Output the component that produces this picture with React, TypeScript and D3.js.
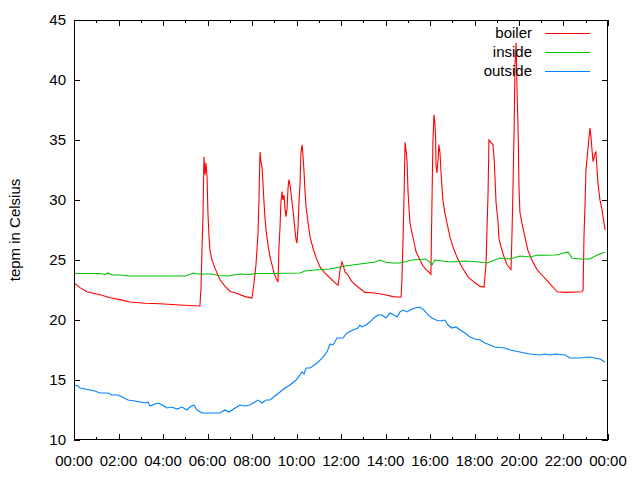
import React from "react";
import * as d3 from "d3";

// [hour of day, temperature °C]
const boiler: [number, number][] = [
  [0, 23.1], [0.27, 22.7], [0.58, 22.35], [1.17, 22.1], [1.62, 21.85], [2.07, 21.7], [2.52, 21.5], [3.19, 21.4],
  [3.87, 21.35], [4.76, 21.25], [5.66, 21.17], [5.71, 22.75], [5.75, 25.7], [5.8, 28.9], [5.84, 33.6], [5.89, 32.1],
  [5.93, 33.1], [5.98, 31.9], [6.02, 28.9], [6.07, 26.9], [6.11, 25.8], [6.2, 25.0], [6.34, 24.3], [6.56, 23.35],
  [6.79, 22.8], [7.01, 22.4], [7.33, 22.2], [7.69, 21.95], [8.0, 21.83], [8.09, 23.1], [8.18, 24.6], [8.27, 27.25],
  [8.31, 29.8], [8.36, 34.0], [8.4, 33.2], [8.45, 32.7], [8.49, 31.5], [8.54, 29.8], [8.58, 28.6], [8.63, 27.5],
  [8.72, 26.25], [8.81, 25.25], [8.9, 24.6], [8.99, 23.9], [9.08, 23.5], [9.17, 23.17], [9.21, 26.0], [9.26, 27.75],
  [9.3, 29.8], [9.35, 30.7], [9.39, 30.0], [9.44, 30.4], [9.48, 29.3], [9.53, 28.6], [9.57, 29.2], [9.62, 31.0],
  [9.66, 31.7], [9.71, 31.25], [9.75, 30.6], [9.8, 29.8], [9.84, 29.2], [9.89, 28.3], [9.93, 27.5], [9.98, 26.7],
  [10.02, 26.4], [10.07, 27.75], [10.11, 29.75], [10.16, 31.4], [10.2, 33.9], [10.25, 34.6], [10.29, 33.75],
  [10.34, 32.3], [10.38, 30.8], [10.43, 29.4], [10.52, 28.1], [10.61, 26.9], [10.74, 26.0], [10.88, 25.2],
  [11.06, 24.4], [11.28, 23.9], [11.51, 23.5], [11.73, 23.1], [11.87, 22.9], [11.96, 24.2], [12.04, 24.85],
  [12.09, 24.6], [12.18, 24.0], [12.31, 23.75], [12.49, 23.2], [12.76, 22.75], [13.08, 22.3], [13.53, 22.25],
  [13.98, 22.1], [14.34, 21.95], [14.7, 21.9], [14.74, 23.5], [14.79, 26.8], [14.83, 30.0], [14.88, 34.8],
  [14.92, 34.2], [14.97, 33.2], [15.01, 30.8], [15.06, 29.2], [15.1, 28.1], [15.19, 27.25], [15.28, 26.5],
  [15.37, 25.7], [15.55, 25.0], [15.69, 24.5], [15.82, 24.2], [16.0, 23.9], [16.04, 23.8], [16.09, 30.0],
  [16.13, 34.8], [16.18, 37.1], [16.22, 36.4], [16.25, 35.2], [16.27, 32.9], [16.31, 32.25], [16.36, 33.3],
  [16.4, 34.6], [16.45, 33.9], [16.49, 32.5], [16.54, 31.0], [16.58, 30.0], [16.67, 28.9], [16.76, 28.1],
  [16.9, 26.9], [17.03, 26.1], [17.21, 25.25], [17.44, 24.4], [17.71, 23.6], [18.02, 23.1], [18.25, 22.8],
  [18.43, 22.75], [18.52, 24.75], [18.56, 27.5], [18.61, 30.6], [18.65, 35.0], [18.74, 34.8], [18.83, 34.6],
  [18.88, 33.5], [18.92, 31.9], [18.97, 29.75], [19.06, 28.1], [19.1, 26.8], [19.19, 26.1], [19.33, 25.25],
  [19.46, 24.6], [19.64, 24.2], [19.69, 27.5], [19.73, 31.1], [19.78, 35.8], [19.82, 41.4], [19.87, 43.1],
  [19.91, 39.2], [19.96, 35.8], [20.0, 31.1], [20.04, 29.0], [20.13, 28.1], [20.27, 26.9], [20.4, 25.8],
  [20.58, 25.0], [20.81, 24.2], [21.03, 23.75], [21.3, 23.2], [21.53, 22.75], [21.71, 22.35], [22.07, 22.3],
  [22.83, 22.35], [22.88, 22.5], [22.92, 26.9], [22.97, 29.75], [23.01, 32.5], [23.1, 34.3], [23.19, 36.0],
  [23.24, 35.2], [23.28, 34.2], [23.33, 33.2], [23.37, 33.5], [23.42, 33.9], [23.46, 34.0], [23.51, 32.5],
  [23.55, 31.4], [23.64, 30.0], [23.73, 29.2], [23.82, 28.1], [23.87, 27.5],
];

const inside: [number, number][] = [
  [0, 23.88], [1.17, 23.88], [1.39, 23.79], [1.53, 23.92], [1.71, 23.75], [2.07, 23.75], [2.52, 23.67],
  [3.42, 23.67], [4.31, 23.67], [4.99, 23.67], [5.21, 23.79], [5.35, 23.92], [5.57, 23.83], [5.89, 23.83],
  [6.2, 23.83], [6.47, 23.71], [6.92, 23.67], [7.46, 23.83], [7.82, 23.79], [8.27, 23.88], [8.81, 23.88],
  [10.16, 23.92], [10.38, 24.08], [10.83, 24.17], [11.51, 24.25], [12.18, 24.5], [12.85, 24.67], [13.53, 24.83],
  [13.75, 25.0], [13.98, 24.83], [14.29, 24.75], [14.65, 24.75], [15.19, 25.0], [15.78, 25.08], [16.0, 24.83],
  [16.09, 24.58], [16.22, 25.0], [16.9, 24.83], [17.57, 24.92], [18.25, 24.83], [18.56, 24.75], [18.92, 25.0],
  [19.15, 25.17], [19.6, 25.08], [20.04, 25.33], [20.49, 25.25], [20.85, 25.42], [21.17, 25.4], [21.62, 25.42],
  [21.84, 25.5], [22.2, 25.67], [22.38, 25.17], [22.74, 25.08], [23.19, 25.08], [23.51, 25.42], [23.87, 25.67],
];

const outside: [number, number][] = [
  [0, 14.58], [0.18, 14.5], [0.27, 14.33], [0.72, 14.17], [0.94, 14.08], [1.17, 13.92], [1.53, 13.92],
  [1.71, 13.75], [1.98, 13.75], [2.16, 13.58], [2.43, 13.33], [2.74, 13.25], [2.97, 13.17], [3.19, 13.08],
  [3.33, 13.17], [3.42, 12.83], [3.64, 13.0], [3.78, 13.08], [3.96, 12.92], [4.18, 12.67], [4.4, 12.75],
  [4.63, 12.58], [4.85, 12.75], [5.08, 12.5], [5.21, 12.75], [5.39, 12.92], [5.53, 12.5], [5.75, 12.25],
  [6.02, 12.25], [6.29, 12.25], [6.56, 12.25], [6.79, 12.5], [6.97, 12.33], [7.24, 12.67], [7.46, 12.92],
  [7.69, 12.83], [7.91, 12.92], [8.27, 13.33], [8.45, 13.08], [8.63, 13.33], [8.81, 13.33], [9.03, 13.67],
  [9.26, 14.0], [9.48, 14.33], [9.71, 14.58], [9.98, 15.0], [10.16, 15.42], [10.25, 15.67], [10.34, 15.5],
  [10.43, 16.0], [10.61, 16.0], [10.74, 16.17], [10.97, 16.5], [11.15, 16.83], [11.37, 17.33], [11.51, 18.0],
  [11.64, 17.92], [11.82, 18.5], [12.09, 18.5], [12.27, 18.92], [12.54, 19.17], [12.76, 19.33], [12.85, 19.58],
  [12.94, 19.42], [13.12, 19.58], [13.3, 19.83], [13.48, 20.17], [13.66, 20.42], [13.84, 20.42], [14.02, 20.17],
  [14.2, 20.58], [14.38, 20.42], [14.52, 20.25], [14.65, 20.67], [14.79, 20.83], [14.97, 20.67], [15.1, 20.83],
  [15.33, 21.0], [15.55, 21.08], [15.73, 20.83], [15.91, 20.42], [16.09, 20.17], [16.27, 20.0], [16.45, 19.92],
  [16.67, 20.0], [16.81, 19.58], [16.99, 19.33], [17.17, 19.42], [17.35, 19.17], [17.57, 18.92], [17.8, 18.58],
  [18.02, 18.42], [18.25, 18.33], [18.47, 18.08], [18.7, 17.92], [18.92, 17.75], [19.37, 17.67], [19.6, 17.5],
  [20.04, 17.33], [20.49, 17.17], [20.94, 17.08], [21.17, 17.17], [21.39, 17.08], [21.62, 17.17], [22.07, 17.08],
  [22.29, 16.83], [22.74, 16.83], [23.19, 16.92], [23.64, 16.75], [23.87, 16.5],
];

const seriesNames = ["boiler", "inside", "outside"];
const seriesColors = ["#ff0000", "#00c000", "#0080ff"];
const yTicks = [10, 15, 20, 25, 30, 35, 40, 45];
const xTickHours = [0, 2, 4, 6, 8, 10, 12, 14, 16, 18, 20, 22, 24];
const xTickLabels = ["00:00", "02:00", "04:00", "06:00", "08:00", "10:00", "12:00", "14:00", "16:00", "18:00", "20:00", "22:00", "00:00"];
const yLabel = "tepm in Celsius";

const W = 640, H = 480;
const L = 74, R = 608, T = 20, B = 440;
const FONT = "'Liberation Sans', Arial, sans-serif";
const FS = 15;

export default function App() {
  const x = d3.scaleLinear().domain([0, 24]).range([L, R]);
  const y = d3.scaleLinear().domain([10, 45]).range([B, T]);
  const line = d3.line<[number, number]>().x((d) => x(d[0])).y((d) => y(d[1]));
  const data = [boiler, inside, outside];
  const minor = d3.range(0, 25, 1);
  const cx = (v: number) => Math.round(v) + 0.5;

  return (
    <svg width={W} height={H} style={{ position: "absolute", left: 0, top: 0, background: "#fff" }}>
      <rect x={0} y={0} width={W} height={H} fill="#fff" />
      {yTicks.map((t) => (
        <g key={"y" + t}>
          <line x1={L} x2={L + 6} y1={cx(y(t))} y2={cx(y(t))} stroke="#000" shapeRendering="crispEdges" />
          <line x1={R - 6} x2={R} y1={cx(y(t))} y2={cx(y(t))} stroke="#000" shapeRendering="crispEdges" />
          <text x={66} y={y(t)} dy="0.35em" textAnchor="end" fontFamily={FONT} fontSize={FS} fill="#000">
            {t}
          </text>
        </g>
      ))}
      {minor.map((h) => {
        const len = h % 2 === 0 ? 6 : 3;
        return (
          <g key={"x" + h}>
            <line x1={cx(x(h))} x2={cx(x(h))} y1={B} y2={B - len} stroke="#000" shapeRendering="crispEdges" />
            <line x1={cx(x(h))} x2={cx(x(h))} y1={T} y2={T + len} stroke="#000" shapeRendering="crispEdges" />
          </g>
        );
      })}
      {xTickHours.map((h, i) => (
        <text key={"xl" + i} x={x(h)} y={461} dy="0.35em" textAnchor="middle" fontFamily={FONT} fontSize={FS} fill="#000">
          {xTickLabels[i]}
        </text>
      ))}
      <text
        transform={`translate(15,${(T + B) / 2}) rotate(-90)`}
        textAnchor="middle"
        dy="0.35em"
        fontFamily={FONT}
        fontSize={FS}
        fill="#000"
      >
        {yLabel}
      </text>
      {data.map((d, i) => (
        <path key={"s" + i} d={line(d) || ""} fill="none" stroke={seriesColors[i]} strokeWidth={1.1} />
      ))}
      <rect x={L + 0.5} y={T + 0.5} width={R - L - 1} height={B - T - 1} fill="none" stroke="#000" shapeRendering="crispEdges" />
      {seriesNames.map((n, i) => (
        <g key={"lg" + i}>
          <text x={532} y={33 + i * 19} dy="0.35em" textAnchor="end" fontFamily={FONT} fontSize={FS} fill="#000">
            {n}
          </text>
          <line x1={545} x2={590} y1={33.5 + i * 19} y2={33.5 + i * 19} stroke={seriesColors[i]} shapeRendering="crispEdges" />
        </g>
      ))}
    </svg>
  );
}
